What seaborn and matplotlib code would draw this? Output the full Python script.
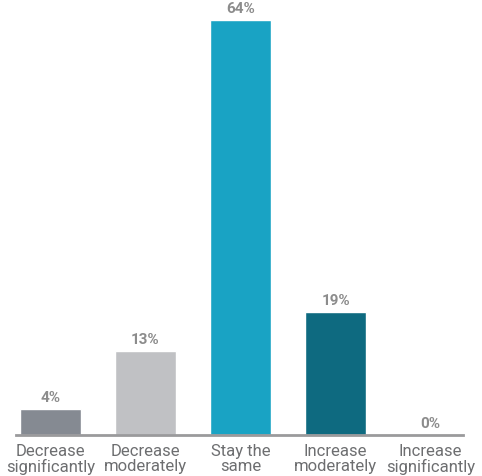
import matplotlib
matplotlib.use("Agg")
import matplotlib.pyplot as plt
import seaborn as sns
import pandas as pd

categories = ["Decrease\nsignificantly", "Decrease\nmoderately", "Stay the\nsame",
              "Increase\nmoderately", "Increase\nsignificantly"]
values = [4, 13, 64, 19, 0]
colors = ["#858a92", "#c0c1c4", "#19a3c4", "#0e6a80", "#b0b2b6"]

sns.set_theme(style="white")
plt.rcParams["font.family"] = ["Roboto", "DejaVu Sans"]

df = pd.DataFrame({"category": categories, "value": values})

fig = plt.figure(figsize=(4.82, 4.77), dpi=100)
ax = fig.add_axes([16 / 482, 41 / 477, 447 / 482, 436 / 477])

sns.barplot(data=df, x="category", y="value", hue="category", palette=colors,
            width=0.64, saturation=1, legend=False, ax=ax)

ax.set_xlim(-0.363, 4.342)
ax.set_ylim(0, 67.2)

for i, v in enumerate(values):
    ax.annotate(f"{v}%", (i, v), xytext=(0, 3.5), textcoords="offset points",
                ha="center", va="bottom", fontsize=11, fontweight="bold",
                color="#8c8c8c", annotation_clip=False)

for s in ["top", "left", "right"]:
    ax.spines[s].set_visible(False)
ax.spines["bottom"].set_color("#9a9a9c")
ax.spines["bottom"].set_linewidth(2)
ax.set_yticks([])
ax.set_xlabel("")
ax.set_ylabel("")
ax.tick_params(axis="x", length=0, pad=6, labelsize=12, labelcolor="#6d6e70")
for lbl in ax.get_xticklabels():
    lbl.set_linespacing(1.0)

fig.savefig("out.png", dpi=100)
